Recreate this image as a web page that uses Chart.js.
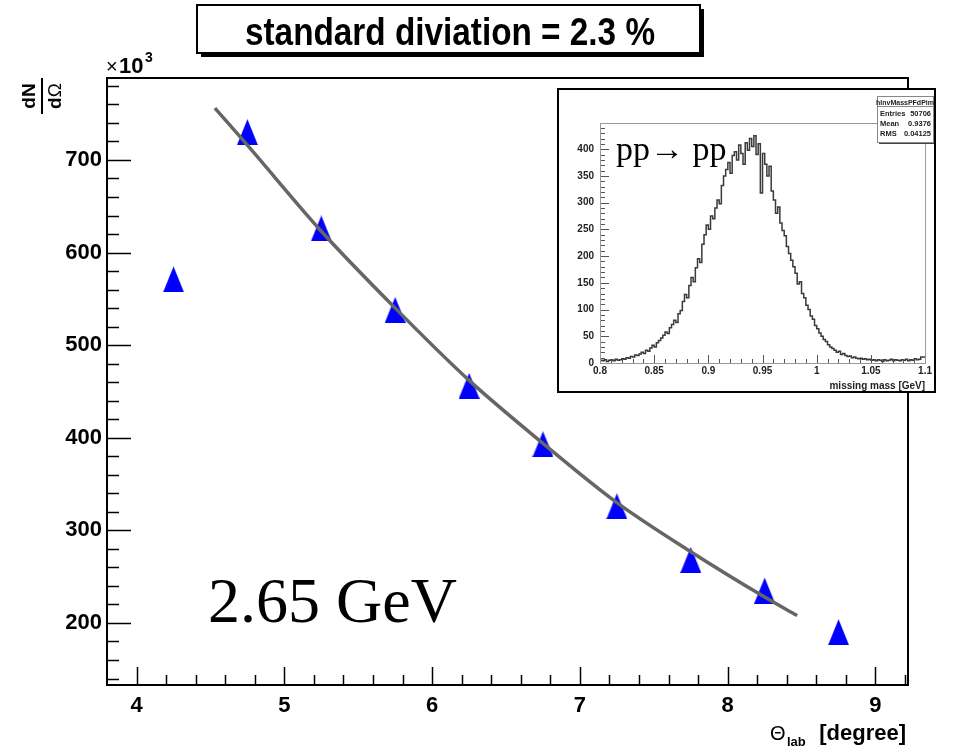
<!DOCTYPE html>
<html>
<head>
<meta charset="utf-8">
<script src="https://cdn.jsdelivr.net/npm/chart.js@4.4.1/dist/chart.umd.min.js"></script>
<style>
  html, body { margin: 0; padding: 0; background: #fff; }
  #wrap { position: relative; width: 965px; height: 748px; }
  #main { position: absolute; left: 0; top: 0; }
  #inset { position: absolute; left: 557px; top: 88px; width: 379px; height: 305px;
           box-sizing: border-box; border: 2px solid #000; background: #fff; }
  #hist { display: block; }
</style>
</head>
<body>
<div id="wrap">
  <canvas id="main" width="965" height="748"></canvas>
  <div id="inset"><canvas id="hist" width="375" height="301"></canvas></div>
</div>
<script>
// dN/dOmega (x10^3) vs theta_lab, 2.65 GeV
const thetaLab = [4.25, 4.75, 5.25, 5.75, 6.25, 6.75, 7.25, 7.75, 8.25, 8.75];
const dNdOmega = [571, 730, 626, 538, 456, 393, 326, 268, 235, 190];

// fit curve, sampled along its drawn range
const fitTheta = [4.53, 4.75, 5.25, 5.75, 6.25, 6.75, 7.25, 7.75, 8.25, 8.47];
const fitValue = [756, 716, 623, 540, 462, 394, 330, 277, 228, 208];

const thetaTicks = [4, 5, 6, 7, 8, 9];
const countTicks = [200, 300, 400, 500, 600, 700];

// missing mass histogram, 150 bins from 0.8 to 1.1 GeV
const massLo = 0.8, massHi = 1.1;
const massCounts = [
  3, 5, 4, 6, 3, 5, 6, 4, 7, 5,
  6, 8, 7, 10, 9, 12, 11, 15, 14, 17,
  20, 18, 24, 22, 28, 33, 30, 38, 42, 47,
  52, 58, 55, 66, 72, 80, 76, 92, 98, 115,
  128, 122, 145, 160, 152, 178, 195, 188, 222, 240,
  258, 250, 275, 270, 290, 305, 298, 332, 350, 362,
  375, 355, 388, 395, 380, 408, 392, 372, 412, 398,
  420, 405, 425, 390, 410, 318, 392, 372, 350, 368,
  322, 305, 280, 292, 262, 248, 238, 218, 205, 192,
  180, 168, 148, 152, 130, 122, 108, 100, 88, 82,
  70, 64, 56, 50, 44, 40, 34, 30, 27, 24,
  20, 22, 16, 18, 14, 12, 13, 10, 11, 9,
  8, 9, 7, 8, 6, 7, 5, 6, 4, 6,
  5, 3, 6, 4, 5, 7, 4, 6, 5, 4,
  6, 5, 7, 4, 6, 5, 8, 6, 7, 11
];
const massTicks = [0.8, 0.85, 0.9, 0.95, 1.0, 1.05, 1.1];
const histTicks = [0, 50, 100, 150, 200, 250, 300, 350, 400];

const statsRows = [['Entries', '50706'], ['Mean', '0.9376'], ['RMS', '0.04125']];

Chart.defaults.font.family = '"Liberation Sans", Arial, sans-serif';
Chart.defaults.color = '#000';

// filled triangle marker, a bit taller than wide
function triangleMarker(w, h, color) {
  const c = document.createElement('canvas');
  c.width = w; c.height = h;
  const g = c.getContext('2d');
  g.fillStyle = color;
  g.beginPath();
  g.moveTo(w / 2, 0);
  g.lineTo(w, h);
  g.lineTo(0, h);
  g.closePath();
  g.fill();
  return c;
}

function seg(ctx, x1, y1, x2, y2) {
  ctx.beginPath();
  ctx.moveTo(x1, y1);
  ctx.lineTo(x2, y2);
  ctx.stroke();
}

// frame, inner ticks and all the labels around the main plot
const mainDecor = {
  id: 'mainDecor',
  afterDraw(chart) {
    const { ctx, chartArea: a, scales: { x, y } } = chart;
    ctx.save();
    ctx.strokeStyle = '#000';
    ctx.lineWidth = 1.5;
    for (let v = 140; v <= 780; v += 20) {
      const py = Math.round(y.getPixelForValue(v)) + 0.5;
      seg(ctx, a.left, py, a.left + (v % 100 === 0 ? 24 : 12), py);
    }
    for (let k = 20; k <= 46; k++) {
      const px = Math.round(x.getPixelForValue(k / 5)) + 0.5;
      seg(ctx, px, a.bottom, px, a.bottom - (k % 5 === 0 ? 18 : 10));
    }
    ctx.lineWidth = 2;
    ctx.strokeRect(a.left, a.top, a.right - a.left, a.bottom - a.top);

    // title box with drop shadow
    ctx.fillStyle = '#000';
    ctx.fillRect(201, 9, 503, 48);
    ctx.fillStyle = '#fff';
    ctx.fillRect(197, 5, 503, 48);
    ctx.strokeRect(197, 5, 503, 48);
    ctx.fillStyle = '#000';
    ctx.font = 'bold 38px "Liberation Sans"';
    const title = 'standard diviation = 2.3 %';
    const tw = ctx.measureText(title).width;
    ctx.save();
    ctx.translate(450, 45);
    ctx.scale(410 / tw, 1);
    ctx.textAlign = 'center';
    ctx.fillText(title, 0, 0);
    ctx.restore();

    // x10^3 exponent
    ctx.textAlign = 'left';
    ctx.font = '20px "Liberation Sans"';
    ctx.fillText('\u00d7', 106, 73);
    ctx.font = 'bold 22px "Liberation Sans"';
    ctx.fillText('10', 119, 73);
    ctx.font = 'bold 14px "Liberation Sans"';
    ctx.fillText('3', 145, 62);

    // dN/dOmega, rotated fraction
    ctx.save();
    ctx.translate(42, 96);
    ctx.rotate(-Math.PI / 2);
    ctx.textAlign = 'center';
    ctx.font = 'bold 19px "Liberation Sans"';
    ctx.fillText('dN', 0, -7);
    ctx.lineWidth = 2;
    seg(ctx, -18, 0, 18, 0);
    ctx.textAlign = 'left';
    ctx.font = 'bold 19px "Liberation Sans"';
    const dw = ctx.measureText('d').width;
    ctx.font = '19px "Liberation Sans"';
    const ow = ctx.measureText('\u03a9').width;
    ctx.font = 'bold 19px "Liberation Sans"';
    ctx.fillText('d', -(dw + ow) / 2, 19);
    ctx.font = '19px "Liberation Sans"';
    ctx.fillText('\u03a9', -(dw + ow) / 2 + dw, 19);
    ctx.restore();

    // x axis title
    ctx.font = '20px "Liberation Sans"';
    ctx.fillText('\u0398', 770, 740);
    ctx.font = 'bold 13px "Liberation Sans"';
    ctx.fillText('lab', 787, 746);
    ctx.font = 'bold 22px "Liberation Sans"';
    ctx.textAlign = 'right';
    ctx.fillText('[degree]', 906, 740);

    // beam energy
    ctx.textAlign = 'left';
    ctx.font = '64px "Liberation Serif"';
    ctx.fillText('2.65 GeV', 208, 622);
    ctx.restore();
  }
};

new Chart(document.getElementById('main'), {
  type: 'scatter',
  data: {
    datasets: [
      {
        type: 'line',
        data: fitTheta.map((t, i) => ({ x: t, y: fitValue[i] })),
        borderColor: '#666666',
        borderWidth: 3.5,
        pointRadius: 0,
        cubicInterpolationMode: 'monotone',
        fill: false
      },
      {
        data: thetaLab.map((t, i) => ({ x: t, y: dNdOmega[i] })),
        pointStyle: triangleMarker(21, 26, '#0000ff'),
        pointRadius: 13,
        pointHoverRadius: 13,
        backgroundColor: '#0000ff',
        borderColor: '#0000ff'
      }
    ]
  },
  options: {
    responsive: false,
    animation: false,
    devicePixelRatio: 1,
    layout: { padding: { top: 78, right: 57, left: 0, bottom: 0 } },
    plugins: { legend: { display: false }, tooltip: { enabled: false } },
    scales: {
      x: {
        type: 'linear', min: 3.8, max: 9.22,
        grid: { display: false, drawTicks: false },
        border: { display: false },
        afterBuildTicks: s => { s.ticks = thetaTicks.map(v => ({ value: v })); },
        afterFit: s => { s.height = 63; },
        ticks: { padding: 8, font: { size: 22, weight: 'bold' }, color: '#000', maxRotation: 0 }
      },
      y: {
        type: 'linear', min: 133, max: 788.5,
        grid: { display: false, drawTicks: false },
        border: { display: false },
        afterBuildTicks: s => { s.ticks = countTicks.map(v => ({ value: v })); },
        afterFit: s => { s.width = 107; },
        ticks: { padding: 5, font: { size: 22, weight: 'bold' }, color: '#000' }
      }
    }
  },
  plugins: [mainDecor]
});

// inset: frame, ticks, stats box and labels
const insetDecor = {
  id: 'insetDecor',
  afterDraw(chart) {
    const { ctx, chartArea: a, scales: { x, y } } = chart;
    ctx.save();
    ctx.strokeStyle = '#555';
    ctx.lineWidth = 1;
    for (let v = 0; v <= 440; v += 10) {
      const py = Math.round(y.getPixelForValue(v)) + 0.5;
      seg(ctx, a.left, py, a.left + (v % 50 === 0 ? 9 : 5), py);
    }
    for (let k = 0; k <= 30; k++) {
      const px = Math.round(x.getPixelForValue(massLo + k * 0.01)) + 0.5;
      seg(ctx, px, a.bottom, px, a.bottom - (k % 5 === 0 ? 8 : 4));
    }
    ctx.strokeStyle = '#999';
    ctx.strokeRect(a.left + 0.5, a.top + 0.5, a.right - a.left, a.bottom - a.top);

    ctx.fillStyle = '#222';
    ctx.font = 'bold 10px "Liberation Sans"';
    ctx.textAlign = 'right';
    ctx.fillText('missing mass [GeV]', a.right, a.bottom + 26);

    ctx.fillStyle = '#000';
    ctx.textAlign = 'left';
    ctx.font = '34px "Liberation Serif"';
    ctx.fillText('pp\u2192 pp', 57, 70);

    // stats box
    const bx = 318, by = 6, bw = 56, bh = 46;
    ctx.fillStyle = '#444';
    ctx.fillRect(bx + 2, by + 2, bw, bh);
    ctx.fillStyle = '#fff';
    ctx.fillRect(bx, by, bw, bh);
    ctx.strokeStyle = '#888';
    ctx.strokeRect(bx + 0.5, by + 0.5, bw, bh);
    seg(ctx, bx, by + 10.5, bx + bw, by + 10.5);
    ctx.fillStyle = '#222';
    ctx.font = 'bold 7px "Liberation Sans"';
    ctx.textAlign = 'center';
    ctx.fillText('hInvMassPFdPim', bx + bw / 2, by + 8.5);
    ctx.font = 'bold 7.5px "Liberation Sans"';
    statsRows.forEach((r, i) => {
      const ty = by + 20 + i * 10;
      ctx.textAlign = 'left';
      ctx.fillText(r[0], bx + 3, ty);
      ctx.textAlign = 'right';
      ctx.fillText(r[1], bx + bw - 2, ty);
    });
    ctx.restore();
  }
};

const binWidth = (massHi - massLo) / massCounts.length;
const histPoints = massCounts.map((c, i) => ({ x: massLo + i * binWidth, y: c }));
histPoints.push({ x: massHi, y: massCounts[massCounts.length - 1] });

new Chart(document.getElementById('hist'), {
  type: 'line',
  data: {
    datasets: [{
      data: histPoints,
      stepped: 'after',
      borderColor: '#3a3a3a',
      borderWidth: 1.5,
      pointRadius: 0,
      fill: false
    }]
  },
  options: {
    responsive: false,
    animation: false,
    devicePixelRatio: 1,
    layout: { padding: { top: 33, right: 8, left: 0, bottom: 0 } },
    plugins: { legend: { display: false }, tooltip: { enabled: false } },
    scales: {
      x: {
        type: 'linear', min: massLo, max: massHi,
        grid: { display: false, drawTicks: false },
        border: { display: false },
        afterBuildTicks: s => { s.ticks = massTicks.map(v => ({ value: v })); },
        afterFit: s => { s.height = 28; },
        ticks: { padding: 2, font: { size: 10, weight: 'bold' }, color: '#222', maxRotation: 0,
                 callback: v => String(+v.toFixed(2)) }
      },
      y: {
        type: 'linear', min: 0, max: 449,
        grid: { display: false, drawTicks: false },
        border: { display: false },
        afterBuildTicks: s => { s.ticks = histTicks.map(v => ({ value: v })); },
        afterFit: s => { s.width = 41; },
        ticks: { padding: 6, font: { size: 10, weight: 'bold' }, color: '#222' }
      }
    }
  },
  plugins: [insetDecor]
});
</script>
</body>
</html>
